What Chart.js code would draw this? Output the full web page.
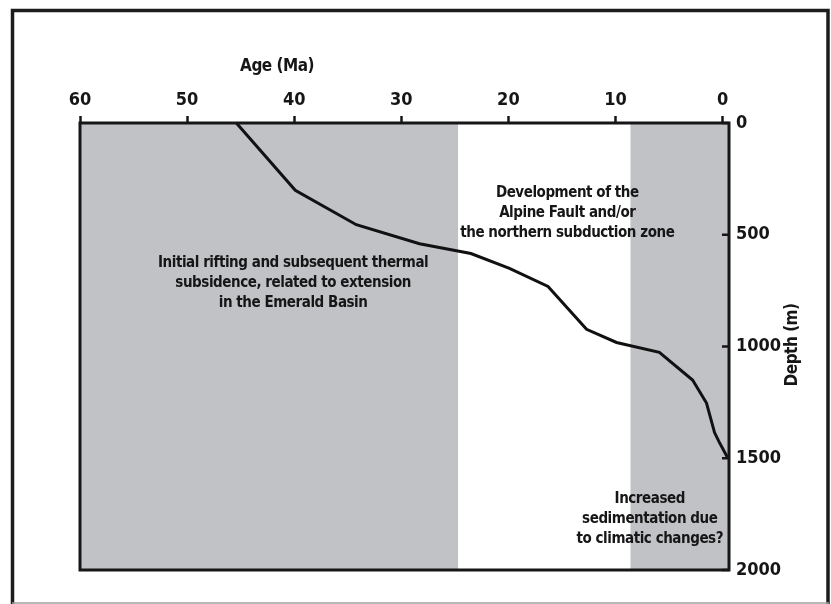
<!DOCTYPE html>
<html>
<head>
<meta charset="utf-8">
<script src="https://cdn.jsdelivr.net/npm/chart.js@4.4.1/dist/chart.umd.min.js"></script>
<style>
  html, body { margin: 0; padding: 0; background: #fff; }
  canvas { display: block; }
</style>
</head>
<body>
<canvas id="burialChart" width="831" height="604"></canvas>
<script>
// burial curve
const ages = [45.4, 39.9, 34.2, 28.3, 23.5, 19.9, 16.3, 12.7, 9.9, 5.9, 2.8, 1.5, 0.75, 0.3, -0.5];
const depths = [0, 301, 455, 540, 584, 650, 731, 923, 982, 1026, 1150, 1253, 1385, 1429, 1500];

// shaded periods (Ma)
const bandFrom = [60, 8.6];
const bandTo = [24.7, -0.6];

const ageTicks = [0, 10, 20, 30, 40, 50, 60];
const depthTicks = [0, 500, 1000, 1500, 2000];

const notes = [
    { age: 40.1, depth: 716, lines: ["Initial rifting and subsequent thermal", "subsidence, related to extension", "in the Emerald Basin"] },
    { age: 14.5, depth: 403, lines: ["Development of the", "Alpine Fault and/or", "the northern subduction zone"] },
    { age: 6.8, depth: 1772, lines: ["Increased", "sedimentation due", "to climatic changes?"] },
];

const FONT = '"Liberation Sans Narrow", "DejaVu Sans Condensed", "Liberation Sans", sans-serif';
const INK = "#161616";

const decor = {
    id: "decor",
    beforeDatasetsDraw(chart) {
        const { ctx, chartArea: a, scales: { x } } = chart;
        ctx.save();
        ctx.fillStyle = "#c1c2c6";
        for (let i = 0; i < bandFrom.length; i++) {
            const x1 = x.getPixelForValue(bandFrom[i]);
            const x2 = x.getPixelForValue(bandTo[i]);
            ctx.fillRect(Math.min(x1, x2), a.top, Math.abs(x2 - x1), a.bottom - a.top);
        }
        ctx.restore();
    },
    afterDatasetsDraw(chart) {
        const { ctx, chartArea: a, scales: { x, y } } = chart;
        ctx.save();

        // plot frame
        ctx.strokeStyle = INK;
        ctx.lineWidth = 3;
        ctx.strokeRect(a.left, a.top, a.right - a.left, a.bottom - a.top);

        // depth ticks point inwards
        ctx.lineWidth = 2.5;
        depthTicks.forEach((d) => {
            const py = y.getPixelForValue(d);
            ctx.beginPath();
            ctx.moveTo(a.right - 7, py);
            ctx.lineTo(a.right, py);
            ctx.stroke();
        });

        // notes
        ctx.fillStyle = INK;
        ctx.font = "bold 15px " + FONT;
        ctx.letterSpacing = "-0.45px";
        ctx.textAlign = "center";
        ctx.textBaseline = "middle";
        notes.forEach((n) => {
            const cx = x.getPixelForValue(n.age);
            const cy = y.getPixelForValue(n.depth);
            n.lines.forEach((t, i) => {
                ctx.fillText(t, cx, cy + (i - (n.lines.length - 1) / 2) * 20);
            });
        });

        // axis titles
        ctx.font = "bold 17px " + FONT;
        ctx.letterSpacing = "-0.5px";
        ctx.fillText("Age (Ma)", x.getPixelForValue(41.6), a.top - 56);
        ctx.translate(a.right + 64, y.getPixelForValue(993));
        ctx.rotate(-Math.PI / 2);
        ctx.fillText("Depth (m)", 0, 0);
        ctx.restore();

        // outer figure border
        ctx.save();
        ctx.strokeStyle = "#1c1c1c";
        ctx.lineWidth = 3.5;
        ctx.beginPath();
        ctx.moveTo(12.5, 604);
        ctx.lineTo(12.5, 10.5);
        ctx.lineTo(828, 10.5);
        ctx.lineTo(828, 604);
        ctx.stroke();
        ctx.strokeStyle = "#a0a0a0";
        ctx.lineWidth = 1.5;
        ctx.beginPath();
        ctx.moveTo(12, 603);
        ctx.lineTo(829, 603);
        ctx.stroke();
        ctx.restore();
    },
};

const ctx = document.getElementById("burialChart").getContext("2d");
new Chart(ctx, {
    type: "line",
    data: {
        datasets: [
            {
                data: ages.map((a, i) => ({ x: a, y: depths[i] })),
                borderColor: "#111",
                borderWidth: 3,
                pointRadius: 0,
                fill: false,
                tension: 0,
            },
        ],
    },
    options: {
        responsive: false,
        animation: false,
        layout: { padding: { left: 80, top: 0, right: 0, bottom: 34 } },
        plugins: { legend: { display: false }, tooltip: { enabled: false } },
        scales: {
            x: {
                type: "linear",
                position: "top",
                reverse: true,
                min: -0.6,
                max: 60,
                afterBuildTicks: (s) => { s.ticks = ageTicks.map((v) => ({ value: v })); },
                afterFit: (s) => { s.height = 123; },
                ticks: {
                    color: INK,
                    padding: 5,
                    autoSkip: false,
                    maxRotation: 0,
                    callback: (v) => String(v),
                    font: { family: FONT, size: 18, weight: "bold" },
                },
                grid: {
                    drawOnChartArea: false,
                    drawTicks: true,
                    tickLength: 7,
                    tickWidth: 2.5,
                    tickColor: INK,
                },
                border: { display: false },
            },
            y: {
                type: "linear",
                position: "right",
                reverse: true,
                min: 0,
                max: 2000,
                afterBuildTicks: (s) => { s.ticks = depthTicks.map((v) => ({ value: v })); },
                afterFit: (s) => { s.width = 102; },
                ticks: {
                    color: INK,
                    padding: 7,
                    callback: (v) => String(v),
                    font: { family: FONT, size: 18, weight: "bold" },
                },
                grid: { drawOnChartArea: false, drawTicks: false },
                border: { display: false },
            },
        },
    },
    plugins: [decor],
});
</script>
</body>
</html>
